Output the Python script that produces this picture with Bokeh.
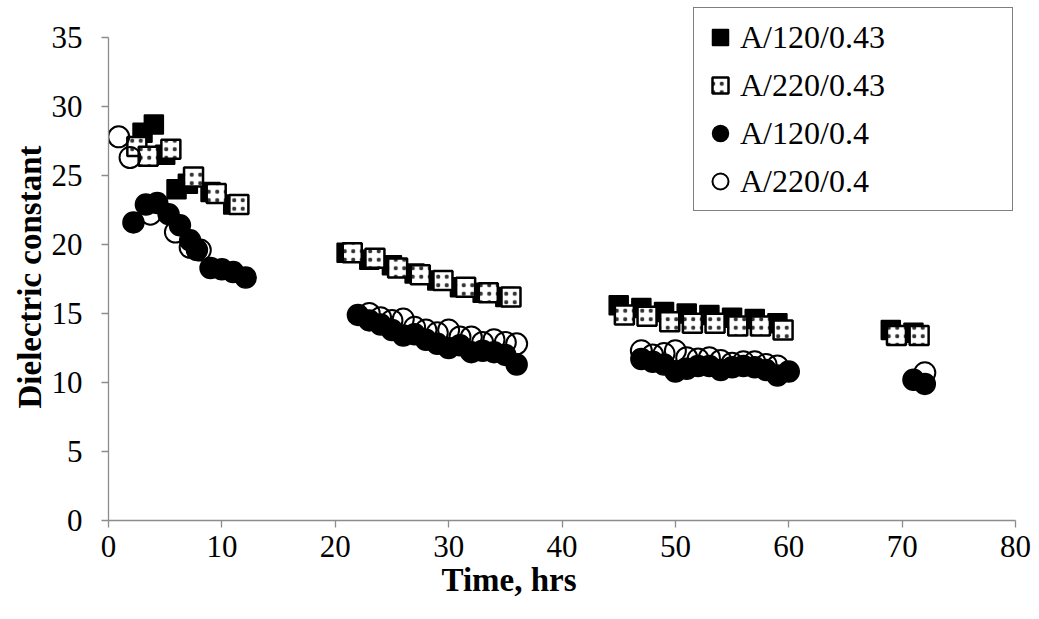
from bokeh.plotting import figure
from bokeh.models import Legend, LegendItem, Range1d, FixedTicker, Title
from bokeh.embed import file_html
from bokeh.resources import INLINE

# A/120/0.43 (filled squares)
t_a120_043 = [3, 4, 5, 6, 7, 9, 11,
              21, 23, 25, 27, 29, 31, 33, 35,
              45, 47, 49, 51, 53, 55, 57, 59,
              69, 71]
e_a120_043 = [28.1, 28.7, 26.5, 24.0, 24.4, 23.8, 22.9,
              19.4, 18.9, 18.5, 17.9, 17.4, 16.9, 16.5, 16.2,
              15.6, 15.4, 15.1, 15.0, 14.9, 14.7, 14.6, 14.3,
              13.8, 13.6]

# A/220/0.43 (dotted squares)
t_a220_043 = [2.5, 3.5, 5.5, 7.5, 9.5, 11.5,
              21.5, 23.5, 25.5, 27.5, 29.5, 31.5, 33.5, 35.5,
              45.5, 47.5, 49.5, 51.5, 53.5, 55.5, 57.5, 59.5,
              69.5, 71.5]
e_a220_043 = [27.1, 26.4, 26.9, 24.9, 23.7, 22.9,
              19.4, 19.0, 18.3, 17.8, 17.4, 16.9, 16.5, 16.2,
              14.9, 14.8, 14.4, 14.3, 14.3, 14.1, 14.1, 13.8,
              13.4, 13.4]

# A/120/0.4 (filled circles)
t_a120_04 = [2.2, 3.3, 4.3, 5.3, 6.3, 7.2, 7.8, 9.0, 10.0, 11.0, 12.1,
             22, 23, 24, 25, 26, 27, 28, 29, 30, 31, 32, 33, 34, 35, 36,
             47, 48, 49, 50, 51, 52, 53, 54, 55, 56, 57, 58, 59, 60,
             71, 72]
e_a120_04 = [21.6, 22.9, 23.0, 22.2, 21.4, 20.3, 19.6, 18.3, 18.2, 18.0, 17.6,
             14.9, 14.5, 14.2, 13.8, 13.4, 13.5, 13.1, 12.8, 12.5, 12.7, 12.2, 12.3, 12.2, 12.0, 11.3,
             11.7, 11.5, 11.3, 10.8, 11.0, 11.2, 11.2, 10.9, 11.1, 11.2, 11.1, 10.9, 10.5, 10.8,
             10.2, 9.9]

# A/220/0.4 (open circles)
t_a220_04 = [0.9, 1.9, 3.7, 5.9, 7.2, 8.1,
             23, 24, 25, 26, 27, 28, 29, 30, 31, 32, 33, 34, 35, 36,
             47, 48, 49, 50, 51, 52, 53, 54, 55, 56, 57, 58, 59,
             72]
e_a220_04 = [27.8, 26.3, 22.2, 20.9, 19.8, 19.6,
             15.0, 14.7, 14.5, 14.6, 14.0, 13.8, 13.6, 13.8, 13.3, 13.3, 12.9, 13.1, 12.9, 12.8,
             12.3, 12.0, 12.1, 12.3, 11.8, 11.7, 11.8, 11.6, 11.4, 11.5, 11.5, 11.3, 11.2,
             10.7]

x_ticks = [0, 10, 20, 30, 40, 50, 60, 70, 80]
y_ticks = [0, 5, 10, 15, 20, 25, 30, 35]
series_names = ["A/120/0.43", "A/220/0.43", "A/120/0.4", "A/220/0.4"]
x_title = "Time, hrs"
y_title = "Dielectric constant"

FONT = "Liberation Serif"

# frame: 0..35 spans 483 px; frame extended upward to the page top (legend room)
Y_TOP = 35 * 520 / 483.0

p = figure(frame_width=907, frame_height=520, output_backend="svg", toolbar_location=None,
           x_range=Range1d(0, 80), y_range=Range1d(0, Y_TOP),
           min_border_left=108, min_border_right=20, min_border_top=0, min_border_bottom=92)
p.background_fill_color = "white"
p.border_fill_color = "white"
p.outline_line_color = None
p.xgrid.visible = False
p.ygrid.visible = False

for ax in (p.xaxis[0], p.yaxis[0]):
    ax.axis_line_color = "#8c8c8c"
    ax.axis_line_width = 1.3
    ax.major_tick_line_color = "#8c8c8c"
    ax.major_tick_line_width = 1.3
    ax.major_tick_out = 7
    ax.major_tick_in = 0
    ax.minor_tick_line_color = None
    ax.major_label_text_font = FONT
    ax.major_label_text_font_size = "31px"
    ax.major_label_text_color = "black"

p.yaxis.bounds = (0, 35)
p.xaxis.ticker = FixedTicker(ticks=x_ticks)
p.yaxis.ticker = FixedTicker(ticks=y_ticks)
p.xaxis.major_label_standoff = 8
p.yaxis.major_label_standoff = 19

ytitle = Title(text=y_title, align="left", offset=112, standoff=1,
               text_font=FONT, text_font_size="33px", text_font_style="bold",
               text_color="black")
p.add_layout(ytitle, "left")
xtitle = Title(text=x_title, align="left", offset=333, standoff=0,
               text_font=FONT, text_font_size="33px", text_font_style="bold",
               text_color="black")
p.add_layout(xtitle, "below")

r1 = p.scatter(t_a120_043, e_a120_043, marker="square", size=19,
               fill_color="black", line_color="black", line_width=1.5)
r2 = p.scatter(t_a220_043, e_a220_043, marker="square", size=19,
               fill_color="white", line_color="black", line_width=2.5,
               hatch_pattern="dot", hatch_color="#333333", hatch_scale=8.5, hatch_weight=2.5)
r3 = p.scatter(t_a120_04, e_a120_04, marker="circle", size=21,
               fill_color="black", line_color="black", line_width=1.5)
r4 = p.scatter(t_a220_04, e_a220_04, marker="circle", size=21,
               fill_alpha=0, line_color="black", line_width=2)

legend = Legend(items=[LegendItem(label=series_names[0], renderers=[r1]),
                       LegendItem(label=series_names[1], renderers=[r2]),
                       LegendItem(label=series_names[2], renderers=[r3]),
                       LegendItem(label=series_names[3], renderers=[r4])],
                location=(585, 309))
legend.label_text_font = FONT
legend.label_text_font_size = "32px"
legend.label_text_color = "black"
legend.glyph_width = 40
legend.glyph_height = 46
legend.label_standoff = 0
legend.label_width = 266
legend.label_height = 46
legend.spacing = 2
legend.padding = 6
legend.margin = 0
legend.border_line_color = "black"
legend.border_line_width = 1.5
legend.background_fill_color = "white"
legend.background_fill_alpha = 1
p.add_layout(legend)

open("out.html", "w").write(file_html(p, INLINE))
